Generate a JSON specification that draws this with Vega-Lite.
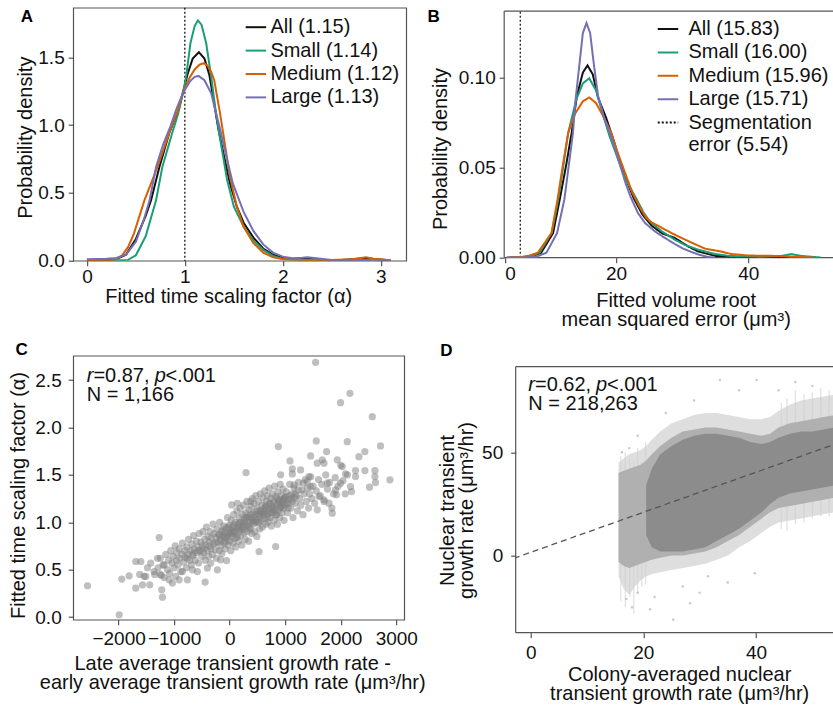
{
  "$schema": "https://vega.github.io/schema/vega-lite/v6.json",
  "background": "white",
  "padding": {"left": 7.2, "top": 5.7, "right": -15, "bottom": 0},
  "config": {
    "font": "Liberation Sans",
    "view": {"stroke": "#555", "strokeWidth": 1.2},
    "axis": {"grid": false, "domain": false, "labelFont": "Liberation Sans", "titleFont": "Liberation Sans", "labelFontSize": 19, "titleFontSize": 20, "titleFontWeight": "normal", "labelColor": "#111", "titleColor": "#111", "tickColor": "#333", "tickSize": 5, "labelPadding": 4, "titlePadding": 2, "titleLineHeight": 19},
    "legend": {"labelFont": "Liberation Sans", "labelFontSize": 20, "labelColor": "#111", "symbolType": "stroke", "symbolStrokeWidth": 2, "symbolSize": 420, "rowPadding": 1.4, "labelOffset": 6},
    "title": {"font": "Liberation Sans", "fontSize": 17, "fontWeight": "bold", "anchor": "start", "frame": "bounds", "baseline": "alphabetic", "color": "#000"}
  },
  "datasets": {
    "kdeA": [
      {"g":"All (1.15)","x":0,"d":0.003},{"g":"All (1.15)","x":0.2,"d":0.005},{"g":"All (1.15)","x":0.3,"d":0.012},{"g":"All (1.15)","x":0.4,"d":0.045},{"g":"All (1.15)","x":0.5,"d":0.16},{"g":"All (1.15)","x":0.6,"d":0.33},{"g":"All (1.15)","x":0.655,"d":0.445},{"g":"All (1.15)","x":0.74,"d":0.69},{"g":"All (1.15)","x":0.84,"d":0.94},{"g":"All (1.15)","x":0.935,"d":1.11},{"g":"All (1.15)","x":0.98,"d":1.24},{"g":"All (1.15)","x":1.03,"d":1.38},{"g":"All (1.15)","x":1.08,"d":1.49},{"g":"All (1.15)","x":1.143,"d":1.537},{"g":"All (1.15)","x":1.2,"d":1.49},{"g":"All (1.15)","x":1.25,"d":1.37},{"g":"All (1.15)","x":1.29,"d":1.2},{"g":"All (1.15)","x":1.34,"d":0.98},{"g":"All (1.15)","x":1.4,"d":0.77},{"g":"All (1.15)","x":1.46,"d":0.57},{"g":"All (1.15)","x":1.53,"d":0.4},{"g":"All (1.15)","x":1.6,"d":0.28},{"g":"All (1.15)","x":1.7,"d":0.17},{"g":"All (1.15)","x":1.8,"d":0.09},{"g":"All (1.15)","x":1.9,"d":0.045},{"g":"All (1.15)","x":2.0,"d":0.02},{"g":"All (1.15)","x":2.1,"d":0.012},{"g":"All (1.15)","x":2.25,"d":0.015},{"g":"All (1.15)","x":2.4,"d":0.007},{"g":"All (1.15)","x":2.6,"d":0.005},{"g":"All (1.15)","x":2.75,"d":0.012},{"g":"All (1.15)","x":2.85,"d":0.02},{"g":"All (1.15)","x":2.95,"d":0.01},{"g":"All (1.15)","x":3.1,"d":0.003},
      {"g":"Small (1.14)","x":0,"d":0.002},{"g":"Small (1.14)","x":0.3,"d":0.003},{"g":"Small (1.14)","x":0.42,"d":0.006},{"g":"Small (1.14)","x":0.5,"d":0.04},{"g":"Small (1.14)","x":0.6,"d":0.18},{"g":"Small (1.14)","x":0.706,"d":0.445},{"g":"Small (1.14)","x":0.77,"d":0.69},{"g":"Small (1.14)","x":0.87,"d":0.94},{"g":"Small (1.14)","x":0.93,"d":1.08},{"g":"Small (1.14)","x":0.98,"d":1.23},{"g":"Small (1.14)","x":1.013,"d":1.357},{"g":"Small (1.14)","x":1.057,"d":1.603},{"g":"Small (1.14)","x":1.1,"d":1.73},{"g":"Small (1.14)","x":1.133,"d":1.771},{"g":"Small (1.14)","x":1.17,"d":1.74},{"g":"Small (1.14)","x":1.218,"d":1.603},{"g":"Small (1.14)","x":1.269,"d":1.357},{"g":"Small (1.14)","x":1.31,"d":1.13},{"g":"Small (1.14)","x":1.35,"d":0.94},{"g":"Small (1.14)","x":1.43,"d":0.6},{"g":"Small (1.14)","x":1.5,"d":0.4},{"g":"Small (1.14)","x":1.6,"d":0.25},{"g":"Small (1.14)","x":1.7,"d":0.15},{"g":"Small (1.14)","x":1.8,"d":0.08},{"g":"Small (1.14)","x":1.9,"d":0.035},{"g":"Small (1.14)","x":2.0,"d":0.012},{"g":"Small (1.14)","x":2.2,"d":0.005},{"g":"Small (1.14)","x":2.5,"d":0.003},{"g":"Small (1.14)","x":2.9,"d":0.003},
      {"g":"Medium (1.12)","x":0,"d":0.002},{"g":"Medium (1.12)","x":0.25,"d":0.005},{"g":"Medium (1.12)","x":0.3,"d":0.012},{"g":"Medium (1.12)","x":0.36,"d":0.04},{"g":"Medium (1.12)","x":0.42,"d":0.1},{"g":"Medium (1.12)","x":0.48,"d":0.2},{"g":"Medium (1.12)","x":0.587,"d":0.445},{"g":"Medium (1.12)","x":0.72,"d":0.69},{"g":"Medium (1.12)","x":0.84,"d":0.94},{"g":"Medium (1.12)","x":0.928,"d":1.11},{"g":"Medium (1.12)","x":0.98,"d":1.24},{"g":"Medium (1.12)","x":1.05,"d":1.35},{"g":"Medium (1.12)","x":1.1,"d":1.41},{"g":"Medium (1.12)","x":1.15,"d":1.445},{"g":"Medium (1.12)","x":1.195,"d":1.456},{"g":"Medium (1.12)","x":1.23,"d":1.44},{"g":"Medium (1.12)","x":1.27,"d":1.39},{"g":"Medium (1.12)","x":1.3,"d":1.33},{"g":"Medium (1.12)","x":1.354,"d":1.11},{"g":"Medium (1.12)","x":1.4,"d":0.9},{"g":"Medium (1.12)","x":1.46,"d":0.62},{"g":"Medium (1.12)","x":1.53,"d":0.4},{"g":"Medium (1.12)","x":1.6,"d":0.25},{"g":"Medium (1.12)","x":1.7,"d":0.13},{"g":"Medium (1.12)","x":1.8,"d":0.06},{"g":"Medium (1.12)","x":1.9,"d":0.025},{"g":"Medium (1.12)","x":2.0,"d":0.012},{"g":"Medium (1.12)","x":2.2,"d":0.006},{"g":"Medium (1.12)","x":2.5,"d":0.005},{"g":"Medium (1.12)","x":2.7,"d":0.01},{"g":"Medium (1.12)","x":2.8,"d":0.02},{"g":"Medium (1.12)","x":2.85,"d":0.025},{"g":"Medium (1.12)","x":2.92,"d":0.015},{"g":"Medium (1.12)","x":3.1,"d":0.003},
      {"g":"Large (1.13)","x":0,"d":0.01},{"g":"Large (1.13)","x":0.2,"d":0.015},{"g":"Large (1.13)","x":0.3,"d":0.02},{"g":"Large (1.13)","x":0.4,"d":0.045},{"g":"Large (1.13)","x":0.5,"d":0.14},{"g":"Large (1.13)","x":0.58,"d":0.3},{"g":"Large (1.13)","x":0.64,"d":0.445},{"g":"Large (1.13)","x":0.706,"d":0.69},{"g":"Large (1.13)","x":0.78,"d":0.86},{"g":"Large (1.13)","x":0.853,"d":0.99},{"g":"Large (1.13)","x":0.91,"d":1.111},{"g":"Large (1.13)","x":0.98,"d":1.234},{"g":"Large (1.13)","x":1.05,"d":1.32},{"g":"Large (1.13)","x":1.1,"d":1.355},{"g":"Large (1.13)","x":1.14,"d":1.362},{"g":"Large (1.13)","x":1.2,"d":1.33},{"g":"Large (1.13)","x":1.269,"d":1.234},{"g":"Large (1.13)","x":1.31,"d":1.111},{"g":"Large (1.13)","x":1.354,"d":0.987},{"g":"Large (1.13)","x":1.42,"d":0.78},{"g":"Large (1.13)","x":1.49,"d":0.57},{"g":"Large (1.13)","x":1.6,"d":0.36},{"g":"Large (1.13)","x":1.7,"d":0.22},{"g":"Large (1.13)","x":1.8,"d":0.12},{"g":"Large (1.13)","x":1.9,"d":0.06},{"g":"Large (1.13)","x":2.0,"d":0.03},{"g":"Large (1.13)","x":2.1,"d":0.018},{"g":"Large (1.13)","x":2.2,"d":0.022},{"g":"Large (1.13)","x":2.25,"d":0.025},{"g":"Large (1.13)","x":2.32,"d":0.02},{"g":"Large (1.13)","x":2.5,"d":0.006},{"g":"Large (1.13)","x":2.7,"d":0.005},{"g":"Large (1.13)","x":2.9,"d":0.005},{"g":"Large (1.13)","x":3.1,"d":0.003}
    ],
    "kdeB": [
      {"g":"All (15.83)","x":3.5,"d":0},{"g":"All (15.83)","x":6,"d":0.0003},{"g":"All (15.83)","x":7.5,"d":0.001},{"g":"All (15.83)","x":8.7,"d":0.0028},{"g":"All (15.83)","x":10.5,"d":0.0137},{"g":"All (15.83)","x":11.5,"d":0.0323},{"g":"All (15.83)","x":12.5,"d":0.052},{"g":"All (15.83)","x":13.3,"d":0.0694},{"g":"All (15.83)","x":14.1,"d":0.09},{"g":"All (15.83)","x":15,"d":0.103},{"g":"All (15.83)","x":15.7,"d":0.107},{"g":"All (15.83)","x":16.5,"d":0.102},{"g":"All (15.83)","x":17.3,"d":0.089},{"g":"All (15.83)","x":18.5,"d":0.078},{"g":"All (15.83)","x":19.5,"d":0.067},{"g":"All (15.83)","x":20.5,"d":0.055},{"g":"All (15.83)","x":21.5,"d":0.044},{"g":"All (15.83)","x":22.7,"d":0.033},{"g":"All (15.83)","x":24,"d":0.024},{"g":"All (15.83)","x":25.4,"d":0.0178},{"g":"All (15.83)","x":27,"d":0.0135},{"g":"All (15.83)","x":28.9,"d":0.011},{"g":"All (15.83)","x":30.9,"d":0.0063},{"g":"All (15.83)","x":32.4,"d":0.0035},{"g":"All (15.83)","x":35,"d":0.001},{"g":"All (15.83)","x":38.5,"d":0.0005},{"g":"All (15.83)","x":42,"d":0.0002},{"g":"All (15.83)","x":46,"d":0.0001},
      {"g":"Small (16.00)","x":3.5,"d":0},{"g":"Small (16.00)","x":6,"d":0.0003},{"g":"Small (16.00)","x":7.5,"d":0.0012},{"g":"Small (16.00)","x":8.5,"d":0.003},{"g":"Small (16.00)","x":10.3,"d":0.014},{"g":"Small (16.00)","x":11.27,"d":0.0323},{"g":"Small (16.00)","x":12,"d":0.05},{"g":"Small (16.00)","x":12.78,"d":0.0694},{"g":"Small (16.00)","x":14,"d":0.088},{"g":"Small (16.00)","x":15,"d":0.097},{"g":"Small (16.00)","x":15.96,"d":0.0998},{"g":"Small (16.00)","x":17,"d":0.093},{"g":"Small (16.00)","x":18,"d":0.08},{"g":"Small (16.00)","x":19,"d":0.068},{"g":"Small (16.00)","x":20,"d":0.058},{"g":"Small (16.00)","x":21,"d":0.048},{"g":"Small (16.00)","x":22,"d":0.04},{"g":"Small (16.00)","x":23.2,"d":0.032},{"g":"Small (16.00)","x":24.2,"d":0.025},{"g":"Small (16.00)","x":25.1,"d":0.0202},{"g":"Small (16.00)","x":27,"d":0.0145},{"g":"Small (16.00)","x":28.9,"d":0.01},{"g":"Small (16.00)","x":30.5,"d":0.007},{"g":"Small (16.00)","x":32.4,"d":0.0045},{"g":"Small (16.00)","x":35,"d":0.002},{"g":"Small (16.00)","x":37.5,"d":0.0008},{"g":"Small (16.00)","x":42,"d":0.0004},{"g":"Small (16.00)","x":45,"d":0.001},{"g":"Small (16.00)","x":46.5,"d":0.002},{"g":"Small (16.00)","x":48,"d":0.001},{"g":"Small (16.00)","x":51,"d":0.0001},
      {"g":"Medium (15.96)","x":3.5,"d":0},{"g":"Medium (15.96)","x":5.5,"d":0.0003},{"g":"Medium (15.96)","x":6.8,"d":0.001},{"g":"Medium (15.96)","x":8.2,"d":0.0028},{"g":"Medium (15.96)","x":10.26,"d":0.0137},{"g":"Medium (15.96)","x":11.17,"d":0.0323},{"g":"Medium (15.96)","x":12,"d":0.052},{"g":"Medium (15.96)","x":12.78,"d":0.0694},{"g":"Medium (15.96)","x":13.8,"d":0.08},{"g":"Medium (15.96)","x":15,"d":0.087},{"g":"Medium (15.96)","x":15.96,"d":0.0892},{"g":"Medium (15.96)","x":17,"d":0.086},{"g":"Medium (15.96)","x":18.1,"d":0.0786},{"g":"Medium (15.96)","x":19.3,"d":0.0694},{"g":"Medium (15.96)","x":20.3,"d":0.058},{"g":"Medium (15.96)","x":21.3,"d":0.048},{"g":"Medium (15.96)","x":22.5,"d":0.036},{"g":"Medium (15.96)","x":23.6,"d":0.028},{"g":"Medium (15.96)","x":24.6,"d":0.022},{"g":"Medium (15.96)","x":25.4,"d":0.0197},{"g":"Medium (15.96)","x":27,"d":0.0165},{"g":"Medium (15.96)","x":28.5,"d":0.0135},{"g":"Medium (15.96)","x":30.2,"d":0.0105},{"g":"Medium (15.96)","x":31.9,"d":0.0076},{"g":"Medium (15.96)","x":33.5,"d":0.005},{"g":"Medium (15.96)","x":35.8,"d":0.0035},{"g":"Medium (15.96)","x":37.5,"d":0.002},{"g":"Medium (15.96)","x":40,"d":0.0012},{"g":"Medium (15.96)","x":44,"d":0.001},{"g":"Medium (15.96)","x":47,"d":0.0005},{"g":"Medium (15.96)","x":50,"d":0.0001},
      {"g":"Large (15.71)","x":3.5,"d":0},{"g":"Large (15.71)","x":7,"d":0.0002},{"g":"Large (15.71)","x":8,"d":0.0005},{"g":"Large (15.71)","x":9.5,"d":0.0028},{"g":"Large (15.71)","x":11.1,"d":0.0137},{"g":"Large (15.71)","x":12.2,"d":0.0323},{"g":"Large (15.71)","x":13,"d":0.055},{"g":"Large (15.71)","x":13.5,"d":0.0694},{"g":"Large (15.71)","x":13.9,"d":0.088},{"g":"Large (15.71)","x":14.45,"d":0.1065},{"g":"Large (15.71)","x":15,"d":0.125},{"g":"Large (15.71)","x":15.55,"d":0.1306},{"g":"Large (15.71)","x":16.1,"d":0.125},{"g":"Large (15.71)","x":16.7,"d":0.1065},{"g":"Large (15.71)","x":17.3,"d":0.09},{"g":"Large (15.71)","x":18.2,"d":0.078},{"g":"Large (15.71)","x":19.3,"d":0.067},{"g":"Large (15.71)","x":20.5,"d":0.053},{"g":"Large (15.71)","x":21.5,"d":0.041},{"g":"Large (15.71)","x":22.2,"d":0.034},{"g":"Large (15.71)","x":23.3,"d":0.025},{"g":"Large (15.71)","x":24.4,"d":0.0193},{"g":"Large (15.71)","x":25.9,"d":0.0146},{"g":"Large (15.71)","x":27.4,"d":0.011},{"g":"Large (15.71)","x":28.9,"d":0.0076},{"g":"Large (15.71)","x":30.2,"d":0.005},{"g":"Large (15.71)","x":31.4,"d":0.0032},{"g":"Large (15.71)","x":32.7,"d":0.0015},{"g":"Large (15.71)","x":33.9,"d":0.0004},{"g":"Large (15.71)","x":35,"d":0.0001}
    ],
    "scatC": [
      {"x":1547,"y":2.687},{"x":2165,"y":2.36},{"x":1996,"y":2.261},{"x":2567,"y":2.114},{"x":2716,"y":1.805},{"x":1559,"y":1.858},{"x":876,"y":1.798},{"x":2117,"y":1.85},{"x":2435,"y":1.745},{"x":2327,"y":1.692},{"x":1745,"y":1.745},{"x":1457,"y":1.7},{"x":1086,"y":1.647},{"x":295,"y":1.524},{"x":918,"y":1.5},{"x":1128,"y":1.563},{"x":1128,"y":1.51},{"x":1277,"y":1.552},{"x":1667,"y":1.658},{"x":1577,"y":1.623},{"x":1698,"y":1.623},{"x":1937,"y":1.658},{"x":2027,"y":1.587},{"x":2266,"y":1.545},{"x":2266,"y":1.482},{"x":2435,"y":1.545},{"x":2615,"y":1.545},{"x":2615,"y":1.482},{"x":2626,"y":1.418},{"x":2885,"y":1.447},{"x":2518,"y":1.37},{"x":2176,"y":1.376},{"x":2194,"y":1.324},{"x":2086,"y":1.51},{"x":1996,"y":1.412},{"x":1906,"y":1.341},{"x":1924,"y":1.289},{"x":1847,"y":1.096},{"x":1788,"y":1.201},{"x":1698,"y":1.236},{"x":1577,"y":1.131},{"x":1608,"y":1.271},{"x":1757,"y":1.412},{"x":1397,"y":1.429},{"x":1428,"y":1.482},{"x":1457,"y":1.376},{"x":1326,"y":1.412},{"x":1236,"y":1.341},{"x":1158,"y":1.394},{"x":828,"y":0.744},{"x":529,"y":0.691},
      {"x":-2559,"y":0.33},{"x":-1989,"y":0.024},{"x":-1942,"y":0.4},{"x":-1810,"y":0.435},{"x":-1690,"y":0.586},{"x":-1600,"y":0.586},{"x":-1690,"y":0.305},{"x":-1570,"y":0.34},{"x":-1439,"y":0.34},{"x":-1421,"y":0.569},{"x":-1511,"y":0.428},{"x":-1360,"y":0.48},{"x":-1270,"y":0.839},{"x":-1223,"y":0.288},{"x":-1210,"y":0.21},{"x":-1180,"y":0.417},{"x":-1090,"y":0.393},{"x":-1031,"y":0.358},{"x":-971,"y":0.428},{"x":-910,"y":0.393},{"x":-851,"y":0.48},{"x":-761,"y":0.393},{"x":-671,"y":0.498},{"x":-581,"y":0.48},{"x":-442,"y":0.369},{"x":-401,"y":0.516},{"x":-342,"y":0.569},{"x":-221,"y":0.498},{"x":-162,"y":0.604},{"x":-54,"y":0.596},{"x":36,"y":1.183},{"x":138,"y":1.2},{"x":378,"y":1.22},
      {"x":-1620,"y":0.45},{"x":-1540,"y":0.43},{"x":-1480,"y":0.52},{"x":-1300,"y":0.62},{"x":-1250,"y":0.45},{"x":-1200,"y":0.55},
      {"x":-1350,"y":0.45},{"x":-1290,"y":0.52},{"x":-1250,"y":0.62},{"x":-1230,"y":0.44},{"x":-1180,"y":0.55},{"x":-1150,"y":0.66},{"x":-1120,"y":0.5},{"x":-1100,"y":0.6},{"x":-1080,"y":0.46},{"x":-1060,"y":0.7},{"x":-1040,"y":0.57},{"x":-1020,"y":0.64},{"x":-1000,"y":0.52},{"x":-980,"y":0.75},{"x":-960,"y":0.6},{"x":-950,"y":0.68},
      {"x":-930,"y":0.55},{"x":-910,"y":0.72},{"x":-900,"y":0.62},{"x":-880,"y":0.48},{"x":-860,"y":0.66},{"x":-850,"y":0.78},{"x":-830,"y":0.58},{"x":-810,"y":0.7},{"x":-800,"y":0.63},{"x":-780,"y":0.52},{"x":-770,"y":0.74},{"x":-750,"y":0.66},{"x":-740,"y":0.82},{"x":-720,"y":0.6},{"x":-700,"y":0.7},{"x":-690,"y":0.55},{"x":-680,"y":0.77},{"x":-660,"y":0.65},{"x":-650,"y":0.86},{"x":-640,"y":0.72},{"x":-620,"y":0.6},{"x":-600,"y":0.8},{"x":-590,"y":0.68},{"x":-570,"y":0.74},{"x":-560,"y":0.57},{"x":-550,"y":0.88},{"x":-530,"y":0.7},{"x":-520,"y":0.79},{"x":-500,"y":0.64},
      {"x":-490,"y":0.75},{"x":-480,"y":0.9},{"x":-470,"y":0.68},{"x":-450,"y":0.82},{"x":-440,"y":0.6},{"x":-430,"y":0.76},{"x":-420,"y":0.95},{"x":-400,"y":0.7},{"x":-390,"y":0.85},{"x":-380,"y":0.64},{"x":-370,"y":0.79},{"x":-350,"y":0.9},{"x":-340,"y":0.72},{"x":-330,"y":0.83},{"x":-310,"y":0.66},{"x":-300,"y":0.98},{"x":-290,"y":0.77},{"x":-280,"y":0.88},{"x":-260,"y":0.71},{"x":-250,"y":0.84},{"x":-240,"y":0.62},{"x":-230,"y":0.93},{"x":-220,"y":0.79},{"x":-200,"y":0.87},{"x":-190,"y":0.7},{"x":-180,"y":1.0},{"x":-170,"y":0.82},{"x":-160,"y":0.75},{"x":-150,"y":0.9},{"x":-140,"y":0.67},{"x":-120,"y":0.86},{"x":-110,"y":0.96},{"x":-100,"y":0.78},{"x":-90,"y":0.89},{"x":-80,"y":0.72},{"x":-60,"y":0.94},{"x":-50,"y":0.83},{"x":-40,"y":1.05},{"x":-30,"y":0.76},{"x":-20,"y":0.88},{"x":-10,"y":0.97},{"x":0,"y":0.8},
      {"x":10,"y":0.92},{"x":20,"y":0.7},{"x":30,"y":1.02},{"x":40,"y":0.85},{"x":50,"y":0.95},{"x":60,"y":0.78},{"x":70,"y":1.08},{"x":80,"y":0.9},{"x":90,"y":0.83},{"x":100,"y":1.0},{"x":110,"y":0.74},{"x":120,"y":0.94},{"x":130,"y":1.12},{"x":140,"y":0.87},{"x":150,"y":0.98},{"x":160,"y":0.8},{"x":170,"y":1.05},{"x":180,"y":0.92},{"x":190,"y":1.15},{"x":200,"y":0.86},{"x":210,"y":1.0},{"x":220,"y":0.76},{"x":230,"y":1.08},{"x":240,"y":0.95},{"x":250,"y":1.18},{"x":260,"y":0.89},{"x":270,"y":1.03},{"x":280,"y":0.82},{"x":290,"y":1.1},{"x":300,"y":0.97},{"x":310,"y":1.22},{"x":320,"y":0.9},{"x":330,"y":1.06},{"x":340,"y":0.8},{"x":350,"y":1.13},{"x":360,"y":1.0},{"x":370,"y":0.93},{"x":380,"y":1.17},{"x":390,"y":1.05},{"x":400,"y":0.88},{"x":410,"y":1.25},{"x":420,"y":1.1},{"x":430,"y":0.98},{"x":440,"y":1.2},{"x":450,"y":0.9},{"x":460,"y":1.08},{"x":470,"y":1.28},{"x":480,"y":1.02},{"x":490,"y":0.85},{"x":500,"y":1.15},
      {"x":510,"y":1.0},{"x":520,"y":1.22},{"x":530,"y":1.08},{"x":540,"y":0.93},{"x":550,"y":1.3},{"x":560,"y":1.12},{"x":570,"y":1.02},{"x":580,"y":1.18},{"x":590,"y":0.95},{"x":600,"y":1.26},{"x":610,"y":1.1},{"x":620,"y":1.04},{"x":630,"y":1.33},{"x":640,"y":1.16},{"x":650,"y":0.98},{"x":660,"y":1.22},{"x":670,"y":1.08},{"x":680,"y":1.28},{"x":690,"y":1.0},{"x":700,"y":1.14},{"x":710,"y":1.36},{"x":720,"y":1.2},{"x":730,"y":1.05},{"x":740,"y":1.25},{"x":750,"y":0.96},{"x":760,"y":1.17},{"x":770,"y":1.3},{"x":780,"y":1.1},{"x":790,"y":1.22},{"x":800,"y":1.02},{"x":810,"y":1.38},{"x":820,"y":1.15},{"x":830,"y":1.27},{"x":840,"y":1.08},{"x":850,"y":1.2},{"x":860,"y":0.98},{"x":870,"y":1.32},{"x":880,"y":1.12},{"x":890,"y":1.24},{"x":900,"y":1.05},{"x":910,"y":1.4},{"x":920,"y":1.18},{"x":930,"y":1.28},{"x":940,"y":1.1},{"x":950,"y":1.22},{"x":960,"y":1.35},{"x":970,"y":1.15},{"x":980,"y":1.02},{"x":990,"y":1.26},{"x":1000,"y":1.18},
      {"x":1020,"y":1.32},{"x":1040,"y":1.1},{"x":1060,"y":1.24},{"x":1080,"y":1.4},{"x":1100,"y":1.15},{"x":1120,"y":1.3},{"x":1140,"y":1.05},{"x":1160,"y":1.36},{"x":1180,"y":1.2},{"x":1200,"y":1.28},{"x":1220,"y":1.12},{"x":1240,"y":1.42},{"x":1260,"y":1.25},{"x":1280,"y":1.18},{"x":1300,"y":1.34},{"x":1320,"y":1.08},{"x":1340,"y":1.3},{"x":1360,"y":1.45},{"x":1380,"y":1.22},{"x":1400,"y":1.36},{"x":1420,"y":1.15},{"x":1440,"y":1.3},{"x":1460,"y":1.48},{"x":1480,"y":1.25},{"x":1500,"y":1.38},
      {"x":1530,"y":1.2},{"x":1560,"y":1.33},{"x":1600,"y":1.45},{"x":1630,"y":1.28},{"x":1660,"y":1.4},{"x":1700,"y":1.22},{"x":1730,"y":1.5},{"x":1760,"y":1.35},{"x":1800,"y":1.42},{"x":1840,"y":1.15},{"x":1870,"y":1.3},{"x":1900,"y":1.47},{"x":1950,"y":1.38},{"x":2000,"y":1.6},{"x":2040,"y":1.44},{"x":2080,"y":1.3},{"x":2120,"y":1.5},
      {"x":-180,"y":0.86},{"x":-120,"y":0.92},{"x":-70,"y":0.8},{"x":-20,"y":0.95},{"x":30,"y":0.88},{"x":80,"y":0.97},{"x":130,"y":0.84},{"x":180,"y":1.0},{"x":230,"y":0.92},{"x":280,"y":1.05},{"x":330,"y":0.96},{"x":380,"y":1.08},{"x":430,"y":1.02},{"x":480,"y":1.12},{"x":530,"y":1.0},{"x":580,"y":1.1},{"x":630,"y":1.15},{"x":680,"y":1.05},{"x":730,"y":1.2},{"x":780,"y":1.14},{"x":830,"y":1.08},{"x":880,"y":1.22},{"x":930,"y":1.16},{"x":980,"y":1.25},{"x":1030,"y":1.2},{"x":1080,"y":1.28},{"x":1130,"y":1.22},{"x":1180,"y":1.3},{"x":250,"y":1.0},{"x":350,"y":0.94},{"x":450,"y":1.05},{"x":550,"y":1.12},{"x":650,"y":1.18},{"x":750,"y":1.1},{"x":850,"y":1.25},{"x":950,"y":1.2},{"x":1050,"y":1.15},{"x":100,"y":0.9},{"x":0,"y":0.88},{"x":-100,"y":0.84},
      {"x":60,"y":0.9},{"x":160,"y":0.95},{"x":260,"y":0.98},{"x":360,"y":1.03},{"x":460,"y":1.0},{"x":560,"y":1.06},{"x":660,"y":1.12},{"x":760,"y":1.15},{"x":860,"y":1.18},{"x":960,"y":1.24},{"x":1060,"y":1.2},{"x":1160,"y":1.26},{"x":-60,"y":0.85},{"x":-160,"y":0.8},{"x":-260,"y":0.78},{"x":-360,"y":0.75},{"x":-460,"y":0.72},{"x":-560,"y":0.7},{"x":-660,"y":0.67},{"x":-760,"y":0.62},{"x":210,"y":0.93},{"x":410,"y":1.0},{"x":610,"y":1.08},{"x":810,"y":1.12},{"x":1010,"y":1.27},{"x":310,"y":1.05},{"x":510,"y":1.08},{"x":710,"y":1.1},{"x":910,"y":1.15},{"x":1110,"y":1.25}
    ],
    "cloudD": [
      {"x":15.6,"olo":-10,"mlo":-3,"clo":null,"chi":null,"mhi":40,"ohi":45},
      {"x":16.5,"olo":-16,"mlo":-5,"clo":null,"chi":null,"mhi":41,"ohi":47},
      {"x":17.5,"olo":-19,"mlo":-6,"clo":null,"chi":null,"mhi":42,"ohi":49},
      {"x":18.5,"olo":-15,"mlo":-5,"clo":null,"chi":null,"mhi":43,"ohi":50},
      {"x":19.5,"olo":-12,"mlo":-4,"clo":null,"chi":null,"mhi":44,"ohi":51},
      {"x":20.5,"olo":-10,"mlo":-3,"clo":10,"chi":34,"mhi":46,"ohi":53},
      {"x":21.5,"olo":-9,"mlo":-2,"clo":4,"chi":42,"mhi":49,"ohi":56},
      {"x":23,"olo":-8,"mlo":-1,"clo":2,"chi":49,"mhi":53,"ohi":60},
      {"x":25,"olo":-7,"mlo":0,"clo":2,"chi":53,"mhi":57,"ohi":64},
      {"x":27,"olo":-6,"mlo":0,"clo":2,"chi":56,"mhi":60,"ohi":66},
      {"x":29,"olo":-5,"mlo":1,"clo":3,"chi":58,"mhi":61,"ohi":68},
      {"x":31,"olo":-4,"mlo":2,"clo":4,"chi":59,"mhi":62,"ohi":69},
      {"x":33,"olo":-2,"mlo":4,"clo":7,"chi":59,"mhi":62,"ohi":69},
      {"x":35,"olo":0,"mlo":7,"clo":10,"chi":58,"mhi":61,"ohi":68},
      {"x":37,"olo":4,"mlo":10,"clo":13,"chi":57,"mhi":60,"ohi":67},
      {"x":39,"olo":7,"mlo":14,"clo":17,"chi":55,"mhi":59,"ohi":66},
      {"x":41,"olo":11,"mlo":18,"clo":21,"chi":54,"mhi":58,"ohi":66},
      {"x":42.5,"olo":14,"mlo":21,"clo":25,"chi":55,"mhi":59,"ohi":67},
      {"x":44,"olo":16,"mlo":23,"clo":28,"chi":57,"mhi":62,"ohi":70},
      {"x":46,"olo":17,"mlo":24,"clo":30,"chi":59,"mhi":64,"ohi":73},
      {"x":48,"olo":18,"mlo":25,"clo":31,"chi":60,"mhi":65,"ohi":75},
      {"x":50,"olo":19,"mlo":26,"clo":32,"chi":60,"mhi":66,"ohi":76},
      {"x":52,"olo":20,"mlo":27,"clo":33,"chi":61,"mhi":67,"ohi":77},
      {"x":54,"olo":21,"mlo":28,"clo":34,"chi":62,"mhi":68,"ohi":78},
      {"x":55.4,"olo":22,"mlo":29,"clo":35,"chi":62,"mhi":68,"ohi":79}
    ],
    "streakD": [
      {"x":16,"lo":-22,"hi":48},{"x":16.8,"lo":-25,"hi":50},{"x":17.6,"lo":-20,"hi":47},{"x":18.3,"lo":-28,"hi":46},{"x":19,"lo":-18,"hi":52},{"x":19.7,"lo":-15,"hi":45},{"x":20.4,"lo":-14,"hi":55},
      {"x":44.5,"lo":13,"hi":74},{"x":45.5,"lo":12,"hi":76},{"x":47,"lo":15,"hi":80},{"x":48.5,"lo":16,"hi":78},{"x":50,"lo":18,"hi":79},{"x":51.5,"lo":19,"hi":81},{"x":53,"lo":19,"hi":80},{"x":54.5,"lo":21,"hi":80}
    ],
    "specD": [
      {"x":18,"y":-25},{"x":17,"y":-21},{"x":19,"y":-18},{"x":21.2,"y":-26},{"x":25.3,"y":-31},{"x":28.3,"y":-23},{"x":31.5,"y":-10},{"x":39.8,"y":-8.5},{"x":33.6,"y":85},{"x":40.1,"y":85},{"x":37,"y":80},{"x":24,"y":69},{"x":29,"y":75},{"x":44,"y":80},{"x":50,"y":82},{"x":47,"y":84},{"x":17.5,"y":52},{"x":16.2,"y":50},{"x":27,"y":-15},{"x":35,"y":-13},{"x":22,"y":-20},{"x":30,"y":-18},{"x":19,"y":58}
    ],
    "lineD": [{"x":-3,"y":-1.33},{"x":56,"y":55.84}]
  },
  "resolve": {"scale": {"color": "independent", "strokeDash": "independent"}},
  "spacing": 10,
  "vconcat": [
    {
      "columns": 2,
      "align": "none",
      "spacing": 20,
      "resolve": {"scale": {"color": "independent", "strokeDash": "independent"}},
      "concat": [
        {
          "width": 333, "height": 253,
          "title": {"text": "A", "offset": -19.3, "dx": 5},
          "layer": [
            {
              "data": {"values": [{"x": 1}]},
              "mark": {"type": "rule", "color": "#000", "strokeDash": [2, 2], "strokeWidth": 1.2},
              "encoding": {"x": {"field": "x", "type": "quantitative"}}
            },
            {
              "data": {"name": "kdeA"},
              "mark": {"type": "line", "strokeWidth": 2, "clip": true},
              "encoding": {
                "x": {"field": "x", "type": "quantitative", "scale": {"domain": [-0.14, 3.26], "nice": false, "zero": false},
                      "axis": {"values": [0, 1, 2, 3], "format": "d", "labelPadding": 2, "titlePadding": 0, "title": "Fitted time scaling factor (α)", "titleX": 155}},
                "y": {"field": "d", "type": "quantitative", "scale": {"domain": [0, 1.865], "nice": false},
                      "axis": {"values": [0, 0.5, 1, 1.5], "format": ".1f", "title": "Probability density", "titlePadding": 2, "titleY": 129.5}},
                "color": {"field": "g", "type": "nominal",
                          "scale": {"domain": ["All (1.15)", "Small (1.14)", "Medium (1.12)", "Large (1.13)"], "range": ["#111111", "#1b9e77", "#d95f02", "#7570b3"]},
                          "legend": {"title": null, "orient": "none", "legendX": 171.2, "legendY": 8, "labelOffset": 3}}
              }
            }
          ]
        },
        {
          "width": 343, "height": 250,
          "view": {"stroke": null},
          "title": {"text": "B", "offset": -18.3, "dx": -2.8},
          "layer": [
            {
              "data": {"values": [{}]},
              "mark": {"type": "rule", "color": "#555", "strokeWidth": 1.2},
              "encoding": {"y": {"datum": 0.1372, "type": "quantitative"}}
            },
            {
              "data": {"values": [{}]},
              "mark": {"type": "rule", "color": "#555", "strokeWidth": 1.2},
              "encoding": {"y": {"datum": 0, "type": "quantitative"}}
            },
            {
              "data": {"values": [{}]},
              "mark": {"type": "rule", "color": "#555", "strokeWidth": 1.2},
              "encoding": {"x": {"datum": 3.11, "type": "quantitative"}, "y": {"datum": 0, "type": "quantitative"}, "y2": {"datum": 0.1372}}
            },
            {
              "data": {"values": [{"g": "Segmentation error (5.54)", "x": 5.54, "lo": 0, "hi": 0.1372}]},
              "mark": {"type": "rule", "strokeWidth": 1.2},
              "encoding": {
                "x": {"field": "x", "type": "quantitative"},
                "y": {"field": "lo", "type": "quantitative"},
                "y2": {"field": "hi"},
                "color": {"field": "g", "type": "nominal"},
                "strokeDash": {"field": "g", "type": "nominal"}
              }
            },
            {
              "data": {"name": "kdeB"},
              "mark": {"type": "line", "strokeWidth": 2, "clip": true},
              "encoding": {
                "x": {"field": "x", "type": "quantitative", "scale": {"domain": [3.11, 54.95], "nice": false, "zero": false},
                      "axis": {"values": [3.2, 20, 40], "labelExpr": "datum.value < 10 ? '0' : datum.label", "labelPadding": 2, "titlePadding": 7, "title": ["Fitted volume root", "mean squared error (μm³)"]}},
                "y": {"field": "d", "type": "quantitative", "scale": {"domain": [0, 0.1391], "nice": false},
                      "axis": {"values": [0, 0.05, 0.1], "format": ".2f", "title": "Probability density", "titlePadding": 8, "titleY": 140.8}},
                "color": {"field": "g", "type": "nominal",
                          "scale": {"domain": ["All (15.83)", "Small (16.00)", "Medium (15.96)", "Large (15.71)", "Segmentation error (5.54)"], "range": ["#111111", "#1b9e77", "#d95f02", "#7570b3", "#111111"]},
                          "legend": {"title": null, "orient": "none", "legendX": 152.3, "legendY": 9.8, "labelOffset": 9, "labelExpr": "datum.label == 'Segmentation error (5.54)' ? ['Segmentation', 'error (5.54)'] : datum.label"}},
                "strokeDash": {"field": "g", "type": "nominal",
                          "scale": {"domain": ["All (15.83)", "Small (16.00)", "Medium (15.96)", "Large (15.71)", "Segmentation error (5.54)"], "range": [[1, 0], [1, 0], [1, 0], [1, 0], [2, 2]]},
                          "legend": {"title": null, "orient": "none", "legendX": 152.3, "legendY": 9.8, "labelOffset": 9, "labelExpr": "datum.label == 'Segmentation error (5.54)' ? ['Segmentation', 'error (5.54)'] : datum.label"}}
              }
            }
          ]
        }
      ]
    },
    {
      "columns": 2,
      "align": "none",
      "spacing": 10.5,
      "concat": [
        {
          "width": 331, "height": 264,
          "title": {"text": "C", "offset": -3.3, "dx": 6.7},
          "layer": [
            {
              "data": {"name": "scatC"},
              "mark": {"type": "circle", "size": 52, "color": "#808080", "opacity": 0.5},
              "encoding": {
                "x": {"field": "x", "type": "quantitative", "scale": {"domain": [-2817, 3142], "nice": false, "zero": false},
                      "axis": {"values": [-2000, -1000, 0, 1000, 2000, 3000], "format": "d", "labelPadding": 5, "titlePadding": 5, "title": ["Late average transient growth rate  -", "early average transient growth rate (μm³/hr)"], "titleX": 159}},
                "y": {"field": "y", "type": "quantitative", "scale": {"domain": [-0.028, 2.757], "nice": false, "zero": false},
                      "axis": {"values": [0, 0.5, 1, 1.5, 2, 2.5], "format": ".1f", "labelPadding": 7, "title": "Fitted time scaling factor (α)", "titlePadding": 6, "titleY": 139.3}}
              }
            },
            {
              "data": {"values": [{"x": -2572, "y": 2.483, "t": "r"}, {"x": -1351, "y": 2.483, "t": "p"}]},
              "mark": {"type": "text", "align": "left", "baseline": "alphabetic", "fontSize": 20, "fontStyle": "italic", "color": "#111"},
              "encoding": {"x": {"field": "x", "type": "quantitative"}, "y": {"field": "y", "type": "quantitative"}, "text": {"field": "t"}}
            },
            {
              "data": {"values": [{"x": -2453, "y": 2.483, "t": "=0.87,"}, {"x": -1157, "y": 2.483, "t": "<.001"}, {"x": -2572, "y": 2.283, "t": "N = 1,166"}]},
              "mark": {"type": "text", "align": "left", "baseline": "alphabetic", "fontSize": 20, "color": "#111"},
              "encoding": {"x": {"field": "x", "type": "quantitative"}, "y": {"field": "y", "type": "quantitative"}, "text": {"field": "t"}}
            }
          ]
        },
        {
          "width": 327, "height": 277,
          "view": {"stroke": null},
          "title": {"text": "D", "offset": -4.6, "dx": 2.7},
          "layer": [
            {
              "data": {"name": "cloudD"},
              "mark": {"type": "area", "color": "#dedede", "clip": true},
              "encoding": {
                "x": {"field": "x", "type": "quantitative", "scale": {"domain": [-2.66, 55.39], "nice": false, "zero": false},
                      "axis": {"values": [0, 20, 40], "labelPadding": 6, "title": ["Colony-averaged nuclear", "transient growth rate (μm³/hr)"]}},
                "y": {"field": "olo", "type": "quantitative", "scale": {"domain": [-37.3, 96.71], "nice": false, "zero": false},
                      "axis": {"values": [0, 50], "labelPadding": 8, "title": ["Nuclear transient", "growth rate (μm³/hr)"], "titlePadding": 5, "titleY": 154.3}},
                "y2": {"field": "ohi"}
              }
            },
            {
              "data": {"name": "streakD"},
              "mark": {"type": "rule", "color": "#cfcfcf", "strokeWidth": 1.3, "opacity": 0.6, "clip": true},
              "encoding": {"x": {"field": "x", "type": "quantitative"}, "y": {"field": "lo", "type": "quantitative"}, "y2": {"field": "hi"}}
            },
            {
              "data": {"name": "cloudD"},
              "mark": {"type": "area", "color": "#b0b0b0", "clip": true},
              "encoding": {"x": {"field": "x", "type": "quantitative"}, "y": {"field": "mlo", "type": "quantitative"}, "y2": {"field": "mhi"}}
            },
            {
              "data": {"name": "cloudD"},
              "mark": {"type": "area", "color": "#8c8c8c", "clip": true},
              "encoding": {"x": {"field": "x", "type": "quantitative"}, "y": {"field": "clo", "type": "quantitative"}, "y2": {"field": "chi"}}
            },
            {
              "data": {"name": "specD"},
              "mark": {"type": "circle", "size": 6, "color": "#b0b0b0", "opacity": 0.7},
              "encoding": {"x": {"field": "x", "type": "quantitative"}, "y": {"field": "y", "type": "quantitative"}}
            },
            {
              "data": {"name": "lineD"},
              "mark": {"type": "line", "color": "#555", "strokeDash": [6, 4], "strokeWidth": 1.3, "clip": true},
              "encoding": {"x": {"field": "x", "type": "quantitative"}, "y": {"field": "y", "type": "quantitative"}}
            },
            {
              "data": {"values": [{}]},
              "mark": {"type": "rule", "color": "#555", "strokeWidth": 1.2},
              "encoding": {"y": {"datum": 91.4, "type": "quantitative"}}
            },
            {
              "data": {"values": [{}]},
              "mark": {"type": "rule", "color": "#555", "strokeWidth": 1.2},
              "encoding": {"y": {"datum": -37.3, "type": "quantitative"}}
            },
            {
              "data": {"values": [{}]},
              "mark": {"type": "rule", "color": "#555", "strokeWidth": 1.2},
              "encoding": {"x": {"datum": -2.66, "type": "quantitative"}, "y": {"datum": -37.3, "type": "quantitative"}, "y2": {"datum": 91.4}}
            },
            {
              "data": {"values": [{"x": -0.41, "y": 79.8, "t": "r"}, {"x": 11.6, "y": 79.8, "t": "p"}]},
              "mark": {"type": "text", "align": "left", "baseline": "alphabetic", "fontSize": 20, "fontStyle": "italic", "color": "#111"},
              "encoding": {"x": {"field": "x", "type": "quantitative"}, "y": {"field": "y", "type": "quantitative"}, "text": {"field": "t"}}
            },
            {
              "data": {"values": [{"x": 0.76, "y": 79.8, "t": "=0.62,"}, {"x": 13.56, "y": 79.8, "t": "<.001"}, {"x": -0.41, "y": 70.5, "t": "N = 218,263"}]},
              "mark": {"type": "text", "align": "left", "baseline": "alphabetic", "fontSize": 20, "color": "#111"},
              "encoding": {"x": {"field": "x", "type": "quantitative"}, "y": {"field": "y", "type": "quantitative"}, "text": {"field": "t"}}
            }
          ]
        }
      ]
    }
  ]
}
